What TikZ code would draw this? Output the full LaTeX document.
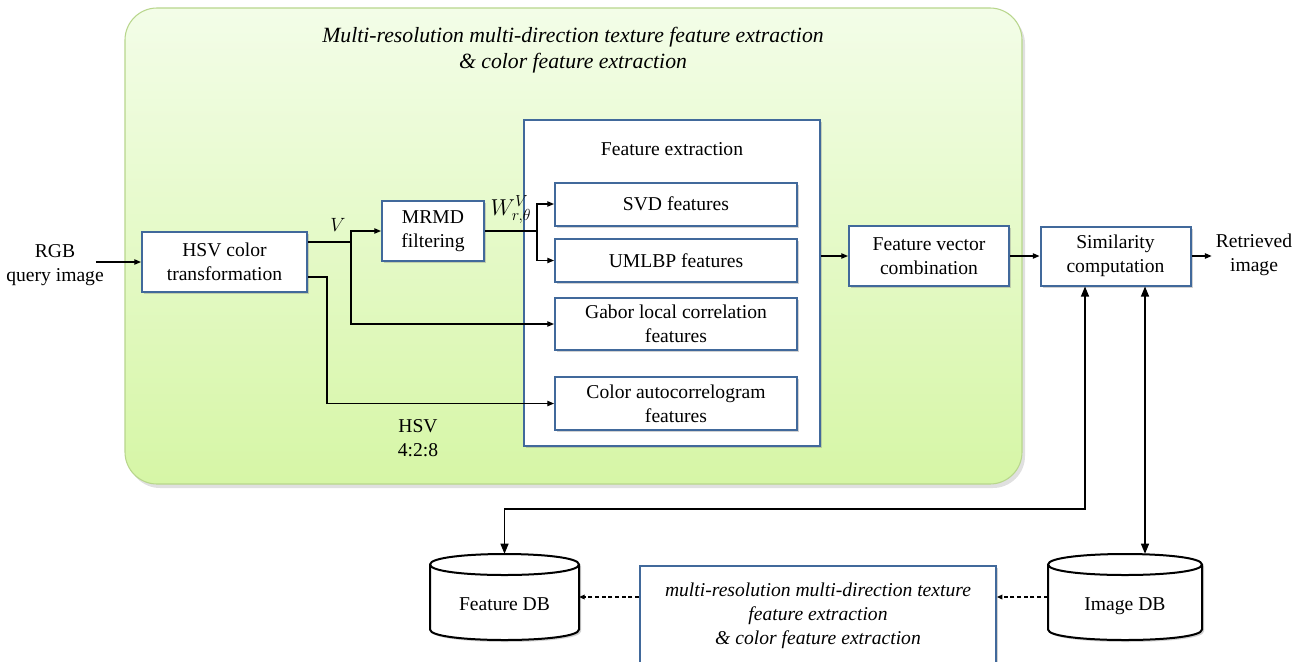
\documentclass[tikz,border=0pt]{standalone}
\usepackage{fontspec}
\setmainfont{Liberation Serif}
\newfontfamily\tnrfam{Liberation Serif}
\usetikzlibrary{arrows.meta,shadows,calc}
\definecolor{boxblue}{RGB}{65,105,155}
\definecolor{gtop}{RGB}{243,253,232}
\definecolor{gbot}{RGB}{214,246,166}
\definecolor{gborder}{RGB}{184,214,140}
\newcommand\dbcyl[4]{%
  \filldraw[dbline, drop shadow={shadow xshift=1.5pt,shadow yshift=-1.5pt,opacity=0.35}]
    (#1,#3+10.5) -- (#1,#4-10.5) .. controls (#1,#4+3.5) and (#2,#4+3.5) .. (#2,#4-10.5)
    -- (#2,#3+10.5) .. controls (#2,#3-3.5) and (#1,#3-3.5) .. cycle;
  \draw[dbline] (#1,#3+10.5) .. controls (#1,#3+24.5) and (#2,#3+24.5) .. (#2,#3+10.5);
}
\begin{document}
\begin{tikzpicture}[x=0.75pt,y=-0.75pt,
  every node/.style={font=\tnrfam\fontsize{14.7pt}{18pt}\selectfont, inner sep=0pt},
  box/.style={draw=boxblue, line width=1.5pt, fill=white, align=center,
    drop shadow={shadow xshift=1.5pt, shadow yshift=-1.5pt, opacity=0.35}},
  conn/.style={line width=0.9pt, black},
  arr/.style={conn, -{Triangle[length=5pt,width=4pt]}},
  dblarr/.style={conn, {Triangle[length=7.5pt,width=6pt]}-{Triangle[length=7.5pt,width=6pt]}},
  dasharr/.style={conn, dash pattern=on 3pt off 2pt, -{Triangle[length=4pt,width=3.5pt]}},
  dbline/.style={line width=1.5pt, black, fill=white},
  lbl/.style={align=center},
  ital/.style={align=center, font=\tnrfam\fontsize{14.7pt}{18pt}\selectfont\itshape}
]
\clip (0,0) rectangle (1306,661);
\fill[white] (0,0) rectangle (1306,661);

% green panel
\path[rounded corners=24pt, fill=black, opacity=0.12] (128,12) rectangle (1025,488);
\shade[rounded corners=24pt, top color=gtop, bottom color=gbot, draw=gborder, line width=0.8pt]
  (125,8) rectangle (1022,484);
\node[align=center, font=\tnrfam\fontsize{16.3pt}{19.5pt}\selectfont\itshape] (title) at (573,50.5) {Multi-resolution multi-direction texture feature extraction\\\& color feature extraction};

% nodes
\node[lbl] (rgb) at (55,265) {RGB\\query image};
\node[box, minimum width={165*0.75pt}, minimum height={60*0.75pt}] (hsv) at (224.5,262) {HSV color\\transformation};
\node[box, minimum width={102*0.75pt}, minimum height={60*0.75pt}] (mrmd) at (433,231) {MRMD\\filtering};
\node[box, minimum width={296*0.75pt}, minimum height={326*0.75pt}] (fe) at (671.5,282.5) {};
\node (fetitle) at (672,149) {Feature extraction};
\node[box, minimum width={242*0.75pt}, minimum height={43*0.75pt}] (svd) at (676,204) {SVD features};
\node[box, minimum width={242*0.75pt}, minimum height={43*0.75pt}] (umlbp) at (676,260.5) {UMLBP features};
\node[box, minimum width={242*0.75pt}, minimum height={52*0.75pt}] (gabor) at (676,324) {Gabor local correlation\\features};
\node[box, minimum width={242*0.75pt}, minimum height={53*0.75pt}] (color) at (676,403.5) {Color autocorrelogram\\features};
\node[box, minimum width={160*0.75pt}, minimum height={60*0.75pt}] (fvc) at (929,256) {Feature vector\\combination};
\node[box, minimum width={150*0.75pt}, minimum height={59*0.75pt}] (sim) at (1115.5,256) {Similarity\\computation};
\node[lbl] (ret) at (1254,255) {Retrieved\\image};
\node (vlbl) at (338,225) {$V$};
\node[font=\fontsize{17pt}{20pt}\selectfont] (wlbl) at (511,210) {$W^{V}_{r,\theta}$};
\node[lbl] (hsvlbl) at (418,438) {HSV\\4:2:8};

% databases
\dbcyl{430}{579}{554}{640}
\dbcyl{1048}{1202}{554}{640}
\node[minimum width={149*0.75pt}, minimum height={86*0.75pt}] (fdb) at (504.5,597) {\raisebox{-10pt}[0pt][0pt]{Feature DB}};
\node[minimum width={154*0.75pt}, minimum height={86*0.75pt}] (idb) at (1125,597) {\raisebox{-10pt}[0pt][0pt]{Image DB}};
\node[box, ital, minimum width={356*0.75pt}, minimum height={100*0.75pt}] (offline) at (818,616) {multi-resolution multi-direction texture\\feature extraction\\\& color feature extraction};

% connectors
\coordinate (b1) at (351,242);
\coordinate (b2) at (327,277);
\coordinate (b3) at (537,231);
\coordinate (j1) at (1085,509);
\coordinate (j2) at (1145,0);

\draw[arr] ([xshift=-6pt]rgb.east |- hsv.west) -- (hsv.west);
\draw[conn] ($(hsv.east)+(0,-20)$) -- (b1);
\draw[arr] (b1) |- (mrmd.west);
\draw[arr] (b1) |- (gabor.west);
\draw[arr] ($(hsv.east)+(0,15)$) -- (b2) |- (color.west);
\draw[conn] (mrmd.east) -- (b3);
\draw[arr] (b3) |- (svd.west);
\draw[arr] (b3) |- (umlbp.west);
\draw[arr] (fe.east |- fvc.west) -- (fvc.west);
\draw[arr] (fvc.east) -- (sim.west);
\draw[arr] (sim.east) -- ([xshift=-3pt]ret.west |- sim.east);
\draw[dblarr] (fdb.north) |- (j1) -- (j1 |- sim.south);
\draw[dblarr] (j2 |- sim.south) -- (j2 |- idb.north);
\draw[dasharr] (offline.west |- fdb.east) -- (fdb.east);
\draw[dasharr] (idb.west) -- (offline.east |- idb.west);
\end{tikzpicture}
\end{document}
